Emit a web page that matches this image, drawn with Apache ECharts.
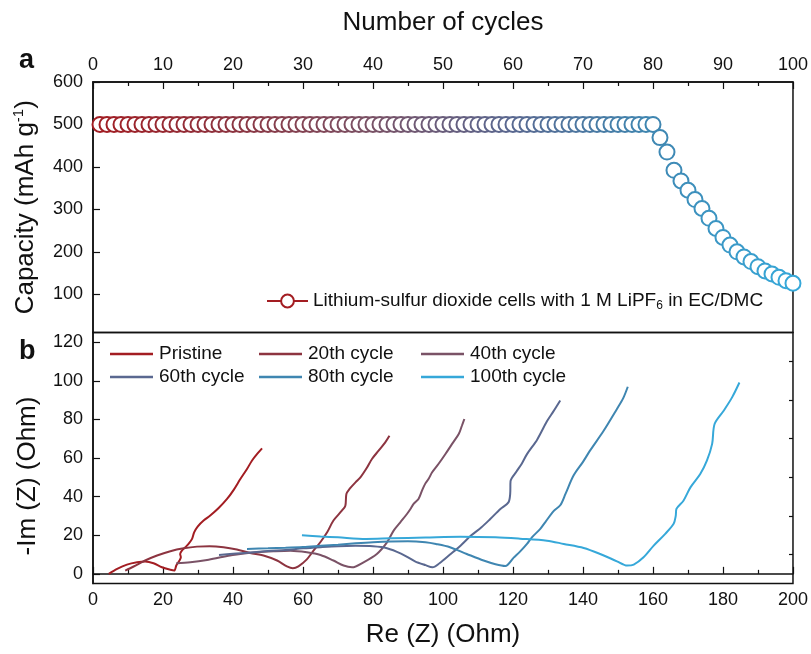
<!DOCTYPE html>
<html>
<head>
<meta charset="utf-8">
<script src="https://cdn.jsdelivr.net/npm/echarts@6/dist/echarts.min.js"></script>
<style>
  html, body { margin: 0; padding: 0; background: #fff; }
  #chart { width: 811px; height: 654px; }
</style>
</head>
<body>
<div id="chart"></div>
<script>
// Panel a: discharge capacity per cycle
const cycles = [
  1, 2, 3, 4, 5, 6, 7, 8, 9, 10, 11, 12, 13, 14, 15, 16, 17, 18, 19, 20,
  21, 22, 23, 24, 25, 26, 27, 28, 29, 30, 31, 32, 33, 34, 35, 36, 37, 38, 39, 40,
  41, 42, 43, 44, 45, 46, 47, 48, 49, 50, 51, 52, 53, 54, 55, 56, 57, 58, 59, 60,
  61, 62, 63, 64, 65, 66, 67, 68, 69, 70, 71, 72, 73, 74, 75, 76, 77, 78, 79, 80,
  81, 82, 83, 84, 85, 86, 87, 88, 89, 90, 91, 92, 93, 94, 95, 96, 97, 98, 99, 100
];
const capacity = [
  500, 500, 500, 500, 500, 500, 500, 500, 500, 500, 500, 500, 500, 500, 500, 500, 500, 500, 500, 500,
  500, 500, 500, 500, 500, 500, 500, 500, 500, 500, 500, 500, 500, 500, 500, 500, 500, 500, 500, 500,
  500, 500, 500, 500, 500, 500, 500, 500, 500, 500, 500, 500, 500, 500, 500, 500, 500, 500, 500, 500,
  500, 500, 500, 500, 500, 500, 500, 500, 500, 500, 500, 500, 500, 500, 500, 500, 500, 500, 500, 500,
  469, 435, 392, 367, 345, 323, 302, 279, 255, 234, 216, 200, 188, 177, 165, 155, 148, 140, 132, 126
];
const capacityLabel = 'Lithium-sulfur dioxide cells with 1 M LiPF{sub|6} in EC/DMC';

// Panel a axis ticks
const cycleTicks = [0, 10, 20, 30, 40, 50, 60, 70, 80, 90, 100];
const capacityTicks = [100, 200, 300, 400, 500, 600];

// Panel b: Nyquist plots, [Re(Z), -Im(Z)] in Ohm
const pristineZ = [
  [4.5, 0], [6.9, 2.6], [9.7, 4.8], [12.6, 6.0], [14.9, 6.4], [17.3, 5.5], [19.7, 3.4],
  [22.1, 2.1], [23.2, 1.7], [23.8, 4.3], [24.2, 5.5], [24.7, 6.9], [25.1, 8.6], [24.9, 10.3],
  [25.4, 12.0], [26.4, 13.8], [27.3, 15.5], [28.3, 18.1], [28.9, 21.5], [29.9, 24.5],
  [31.6, 27.6], [33.5, 30.2], [35.9, 34.1], [38.3, 38.8], [40.2, 43.5], [42.1, 49.1],
  [44.0, 54.3], [45.4, 58.6], [46.9, 62.1], [48.3, 65.0]
];
const cycle20Z = [
  [9.2, 1.7], [11.6, 3.8], [14.9, 6.9], [18.3, 9.5], [22.1, 11.7], [25.9, 13.2], [29.7, 14.1],
  [33.3, 14.3], [37.3, 13.8], [41.1, 12.6], [44.9, 10.8], [48.7, 9.5], [52.6, 6.9], [55.4, 3.9],
  [57.1, 2.9], [58.7, 3.9], [61.1, 7.5], [63.0, 12.0], [65.0, 16.5], [66.9, 21.5], [68.7, 27.6],
  [71.1, 32.7], [72.1, 35.3], [72.4, 41.4], [73.3, 44.0], [75.0, 47.4], [76.4, 50.0],
  [78.3, 55.1], [79.7, 59.5], [81.6, 63.8], [83.5, 68.1], [84.7, 71.5]
];
const cycle40Z = [
  [23.8, 5.5], [27.8, 6.0], [32.6, 7.2], [37.3, 8.9], [42.1, 10.3], [46.9, 11.2], [51.6, 11.7],
  [56.4, 12.0], [61.1, 11.2], [65.0, 9.8], [68.7, 6.9], [71.6, 4.3], [74.0, 3.4], [77.3, 6.0],
  [81.1, 10.3], [84.0, 16.3], [85.9, 22.4], [87.8, 26.7], [89.7, 31.0], [90.7, 33.6],
  [91.6, 36.2], [93.0, 38.8], [94.0, 43.1], [94.9, 46.6], [95.9, 49.2], [96.9, 52.6],
  [98.7, 56.9], [100.7, 62.1], [102.6, 67.3], [104.5, 72.4], [105.4, 76.7], [106.1, 80.2]
];
const cycle60Z = [
  [36.0, 9.8], [40.0, 10.4], [45.0, 11.0], [50.0, 11.8], [55.0, 12.4], [60.0, 13.2], [65.0, 13.8],
  [70.0, 14.3], [75.0, 14.5], [80.0, 14.3], [84.0, 13.3], [88.0, 10.5], [92.0, 6.5], [95.0, 4.5],
  [97.0, 3.4], [99.0, 5.5], [102.0, 10.0], [105.0, 14.6], [108.0, 19.8], [111.0, 24.1],
  [113.5, 28.4], [116.4, 33.6], [118.7, 37.0], [119.2, 41.4], [119.3, 48.0], [121.0, 53.0],
  [122.5, 57.0], [124.0, 62.0], [126.9, 69.5], [129.7, 79.0], [131.5, 84.0], [133.5, 89.8]
];
const cycle80Z = [
  [44.0, 12.9], [50.0, 13.2], [55.0, 13.5], [60.0, 13.9], [65.0, 14.5], [70.0, 15.1], [75.0, 15.8],
  [80.0, 16.4], [85.0, 16.8], [90.0, 16.9], [95.0, 16.4], [98.0, 15.5], [102.0, 13.8],
  [106.8, 10.3], [111.6, 6.9], [115.0, 5.0], [117.8, 4.1], [120.2, 8.4], [122.0, 11.5],
  [124.0, 15.5], [125.4, 18.9], [127.8, 23.3], [129.2, 26.7], [131.6, 32.5], [133.5, 35.5],
  [135.0, 41.4], [137.3, 50.9], [140.0, 58.0], [142.0, 63.8], [145.9, 74.1], [149.7, 85.4],
  [151.5, 91.0], [152.8, 96.9]
];
const cycle100Z = [
  [59.7, 20.0], [65.0, 19.4], [70.0, 18.9], [78.0, 18.1], [85.0, 18.4], [95.0, 18.8],
  [105.0, 19.2], [115.0, 18.9], [122.0, 18.2], [129.7, 17.2], [134.5, 15.5], [140.2, 13.4],
  [144.9, 10.3], [149.7, 6.5], [152.6, 4.3], [154.5, 4.8], [157.3, 8.6], [160.2, 14.6],
  [163.5, 20.7], [165.9, 25.9], [166.5, 30.0], [166.7, 33.6], [168.7, 37.9], [170.7, 44.8],
  [173.5, 51.7], [175.4, 58.6], [176.9, 67.3], [177.6, 77.6], [180.2, 84.5], [182.6, 91.4],
  [184.7, 99.1]
];
const eisNames = ['Pristine', '20th cycle', '40th cycle', '60th cycle', '80th cycle', '100th cycle'];
const eisData = [pristineZ, cycle20Z, cycle40Z, cycle60Z, cycle80Z, cycle100Z];

// Panel b axis ticks
const reTicks = [0, 20, 40, 60, 80, 100, 120, 140, 160, 180, 200];
const imTicks = [0, 20, 40, 60, 80, 100, 120];
const imMinorTicks = [10, 30, 50, 70, 90, 110];

const FONT = 'Liberation Sans, Arial, sans-serif';
const INK = '#111';
const eisColors = ['#a31d22', '#8d3440', '#7a5266', '#5a6890', '#3f86b1', '#36a8d9'];

const chart = echarts.init(document.getElementById('chart'), null, { renderer: 'canvas' });

const tickStyle = { color: INK, width: 1.2 };
const axisLineStyle = { color: INK, width: 1.5 };
const labelStyle = { color: INK, fontFamily: FONT, fontSize: 18 };
const nameStyle = { color: INK, fontFamily: FONT, fontSize: 26 };

// One vertical legend column for the impedance curves
function eisLegendColumn(names, left) {
  return {
    data: names, orient: 'vertical',
    left: left, top: 344, padding: 0, itemGap: 3,
    icon: 'rect', itemWidth: 43, itemHeight: 2.5,
    textStyle: { color: INK, fontFamily: FONT, fontSize: 19, lineHeight: 20, padding: [0, 0, 0, 1] }
  };
}

const option = {
  animation: false,
  backgroundColor: '#fff',
  grid: [
    { left: 93, right: 18, top: 82, height: 250.5, show: true, borderColor: INK, borderWidth: 1.5, containLabel: false },
    { left: 93, right: 18, top: 332.5, height: 251, show: true, borderColor: INK, borderWidth: 1.5, containLabel: false }
  ],
  visualMap: {
    type: 'continuous',
    show: false,
    seriesIndex: 0,
    dimension: 0,
    min: 0,
    max: 100,
    inRange: { color: eisColors }
  },
  xAxis: [
    {
      type: 'value', gridIndex: 0, position: 'top',
      min: cycleTicks[0], max: cycleTicks[cycleTicks.length - 1], interval: 10,
      name: 'Number of cycles', nameLocation: 'middle', nameGap: 46,
      nameTextStyle: nameStyle,
      axisLine: { lineStyle: axisLineStyle },
      axisTick: { inside: true, length: 7, lineStyle: tickStyle },
      minorTick: { show: true, splitNumber: 2, length: 4, lineStyle: tickStyle },
      axisLabel: Object.assign({ margin: 8 }, labelStyle),
      splitLine: { show: false }
    },
    {
      type: 'value', gridIndex: 1, position: 'bottom',
      min: reTicks[0], max: reTicks[reTicks.length - 1], interval: 20,
      name: 'Re (Z) (Ohm)', nameLocation: 'middle', nameGap: 38,
      nameTextStyle: nameStyle,
      axisLine: { lineStyle: axisLineStyle },
      axisTick: { inside: true, length: 7, lineStyle: tickStyle },
      minorTick: { show: true, splitNumber: 2, length: 4, lineStyle: tickStyle },
      axisLabel: Object.assign({ margin: 8 }, labelStyle),
      splitLine: { show: false }
    }
  ],
  yAxis: [
    {
      type: 'value', gridIndex: 0,
      min: 10, max: 600,
      name: 'Capacity (mAh g{sup|-1})', nameLocation: 'middle', nameGap: 52, nameRotate: 90,
      nameTextStyle: Object.assign({}, nameStyle, {
        lineHeight: 30,
        rich: { sup: { fontFamily: FONT, fontSize: 15, color: INK, verticalAlign: 'top', lineHeight: 30 } }
      }),
      axisLine: { lineStyle: axisLineStyle },
      axisTick: { inside: true, length: 7, lineStyle: tickStyle, customValues: capacityTicks },
      axisLabel: Object.assign({ margin: 10, customValues: capacityTicks }, labelStyle),
      splitLine: { show: false }
    },
    {
      type: 'value', gridIndex: 1,
      min: -5, max: 125,
      name: '-Im (Z) (Ohm)', nameLocation: 'middle', nameGap: 52, nameRotate: 90,
      nameTextStyle: Object.assign({}, nameStyle, { padding: [0, 36, 0, 0] }),
      axisLine: { lineStyle: axisLineStyle },
      axisTick: { inside: true, length: 7, lineStyle: tickStyle, customValues: imTicks },
      axisLabel: Object.assign({ margin: 10, customValues: imTicks }, labelStyle),
      splitLine: { show: false }
    },
    {
      type: 'value', gridIndex: 1,
      min: -5, max: 125,
      axisLine: { show: false },
      axisTick: { inside: true, length: 4, lineStyle: tickStyle, customValues: imMinorTicks },
      axisLabel: { show: false },
      splitLine: { show: false }
    }
  ],
  legend: [
    {
      data: ['capacity'],
      left: 266, top: 290, padding: 0,
      itemWidth: 41, itemHeight: 16,
      formatter: () => capacityLabel,
      textStyle: {
        color: INK, fontFamily: FONT, fontSize: 19, lineHeight: 22,
        rich: { sub: { fontFamily: FONT, fontSize: 12, color: INK, verticalAlign: 'bottom', lineHeight: 22, padding: [6, 0, 0, 0] } }
      },
      lineStyle: { color: '#a31d22', width: 2, opacity: 1 },
      itemStyle: { color: '#a31d22', borderColor: '#a31d22', borderWidth: 2, opacity: 1 }
    },
    eisLegendColumn([eisNames[0], eisNames[3]], 110),
    eisLegendColumn([eisNames[1], eisNames[4]], 259),
    eisLegendColumn([eisNames[2], eisNames[5]], 421)
  ],
  graphic: [
    { type: 'text', left: 19, top: 47, style: { text: 'a', font: 'bold 27px ' + FONT, fill: INK } },
    { type: 'text', left: 19, top: 338, style: { text: 'b', font: 'bold 27px ' + FONT, fill: INK } }
  ],
  series: [
    {
      name: 'capacity',
      type: 'line',
      xAxisIndex: 0, yAxisIndex: 0,
      data: cycles.map((c, i) => [c, capacity[i]]),
      symbol: 'emptyCircle',
      symbolSize: 15,
      showAllSymbol: true,
      itemStyle: { color: '#a31d22', borderWidth: 2 },
      lineStyle: { width: 0, opacity: 0 },
      clip: true,
      z: 3
    }
  ].concat(eisData.map((pts, i) => ({
    name: eisNames[i],
    type: 'line',
    xAxisIndex: 1, yAxisIndex: 1,
    data: pts,
    symbol: 'none',
    smooth: 0.3,
    color: eisColors[i],
    itemStyle: { color: eisColors[i] },
    lineStyle: { color: eisColors[i], width: 2 },
    clip: true,
    z: 2 + i * 0.01
  })))
};

chart.setOption(option);
</script>
</body>
</html>
